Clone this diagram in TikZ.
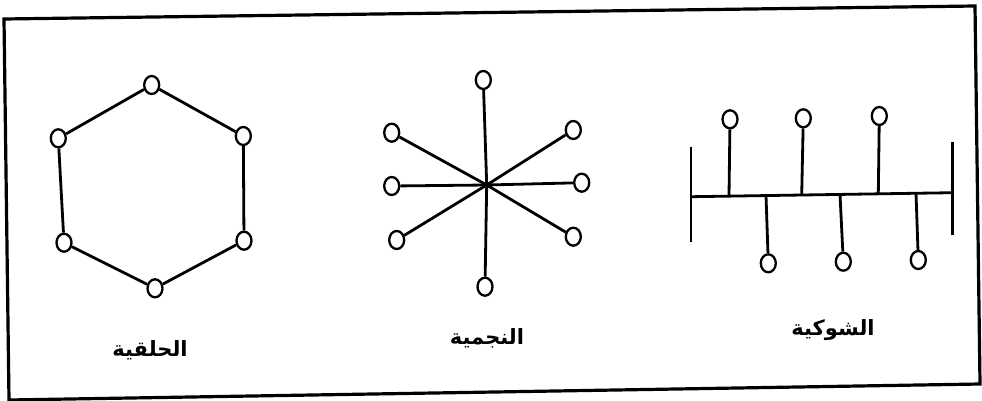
\documentclass[tikz,border=0pt]{standalone}
\usepackage{fontspec}
\usetikzlibrary{shapes.geometric}
\newfontfamily\arabicfont[Script=Arabic]{DejaVu Sans}
\TeXXeTstate=1
\tikzset{
  vtx/.style={ellipse, draw, line width=2.3pt, fill=white, minimum width=15pt, minimum height=18pt, inner sep=0pt},
  link/.style={line width=2.8pt},
  frameline/.style={line width=3.2pt, line join=miter},
  lbl/.style={font=\arabicfont\bfseries\fontsize{21}{24}\selectfont, inner sep=0pt}
}
\begin{document}
\begin{tikzpicture}[x=1pt,y=-1pt]
\useasboundingbox (0,0) rectangle (982,401);
% frame
\coordinate (ftl) at (4,19);
\coordinate (ftr) at (975,6);
\coordinate (fbr) at (980,384);
\coordinate (fbl) at (9,400);
\draw[frameline] (ftl) -- (ftr) -- (fbr) -- (fbl) -- cycle;

% ring
\node[vtx] (r1) at (151.7,85) {};
\node[vtx] (r2) at (243.3,136) {};
\node[vtx] (r3) at (244,240.7) {};
\node[vtx] (r4) at (155,288.3) {};
\node[vtx] (r5) at (64,242.7) {};
\node[vtx] (r6) at (58.3,138.3) {};
\draw[link] (r1) -- (r2);
\draw[link] (r2) -- (r3);
\draw[link] (r3) -- (r4);
\draw[link] (r4) -- (r5);
\draw[link] (r5) -- (r6);
\draw[link] (r6) -- (r1);

% star
\coordinate (sc) at (486.7,185);
\node[vtx] (s1) at (483.3,80) {};
\node[vtx] (s2) at (573.3,130) {};
\node[vtx] (s3) at (581.7,182.7) {};
\node[vtx] (s4) at (573.3,236.7) {};
\node[vtx] (s5) at (485,286.7) {};
\node[vtx] (s6) at (396.7,240) {};
\node[vtx] (s7) at (391.7,186) {};
\node[vtx] (s8) at (391.7,132.7) {};
\foreach \n in {s1,s2,s3,s4,s5,s6,s7,s8}{\draw[link] (\n) -- (sc);}

% bus
\coordinate (bl) at (691.7,196.7);
\coordinate (br) at (952.7,192.7);
\coordinate (blt) at (691,146.7);
\coordinate (blb) at (691,241.7);
\coordinate (brt) at (952.7,141.7);
\coordinate (brb) at (952.7,235);
\draw[link] (bl) -- (br);
\draw[link] (blt) -- (blb);
\draw[link] (brt) -- (brb);
\node[vtx] (t1) at (730,119.3) {};
\node[vtx] (t2) at (803.3,118.3) {};
\node[vtx] (t3) at (879.3,116) {};
\node[vtx] (d1) at (768.3,263.3) {};
\node[vtx] (d2) at (843.3,261.7) {};
\node[vtx] (d3) at (918.3,260) {};
\coordinate (t1b) at (729,196.1);
\coordinate (t2b) at (801.7,195.0);
\coordinate (t3b) at (878.3,193.8);
\coordinate (d1b) at (766,195.6);
\coordinate (d2b) at (840,194.4);
\coordinate (d3b) at (916,193.2);
\draw[link] (t1) -- (t1b);
\draw[link] (t2) -- (t2b);
\draw[link] (t3) -- (t3b);
\draw[link] (d1) -- (d1b);
\draw[link] (d2) -- (d2b);
\draw[link] (d3) -- (d3b);

% labels
\node[lbl] (lring) at (150,350) {\beginR الحلقية\endR};
\node[lbl] (lstar) at (487,338) {\beginR النجمية\endR};
\node[lbl] (lbus) at (833,330) {\beginR الشوكية\endR};
\end{tikzpicture}
\end{document}
